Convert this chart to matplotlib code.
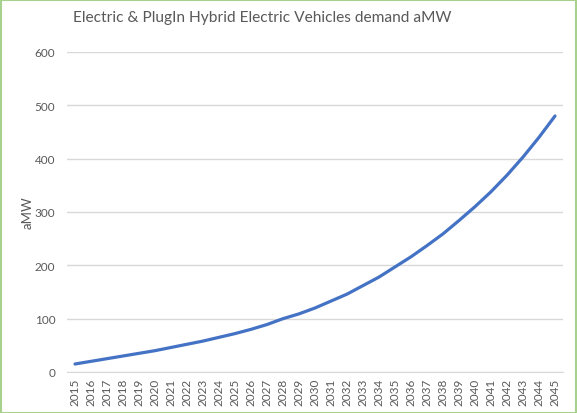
import matplotlib
matplotlib.use("Agg")
import matplotlib.pyplot as plt
from matplotlib.patches import Rectangle

years = list(range(2015, 2046))
demand = [15, 20, 25, 30, 35, 40, 46, 52, 58, 65, 72, 80, 89, 100, 109, 120,
          133, 146, 162, 178, 197, 216, 237, 259, 284, 310, 338, 369, 403, 440, 480]
yticks = [0, 100, 200, 300, 400, 500, 600]
title = "Electric & PlugIn Hybrid Electric Vehicles demand aMW"
ylabel = "aMW"

plt.rcParams['font.family'] = ['Lato', 'DejaVu Sans']

W, H = 577, 414
fig = plt.figure(figsize=(W / 100, H / 100), dpi=100)
ax = fig.add_axes([67 / W, 1 - 373 / H, (563 - 67) / W, (373 - 53) / H])

x = list(range(len(years)))
ax.plot(x, demand, color='#4472C4', lw=2.3, solid_capstyle='round')
ax.set_xlim(-0.5, len(years) - 0.5)
ax.set_ylim(0, 600)
ax.set_yticks(yticks)
ax.set_xticks(x)
ax.set_xticklabels([str(y) for y in years], rotation=90)
ax.grid(axis='y', color='#D9D9D9', lw=1)
ax.set_axisbelow(True)
for s in ['top', 'right', 'left']:
    ax.spines[s].set_visible(False)
ax.spines['bottom'].set_color('#D9D9D9')
ax.tick_params(axis='both', length=0, colors='#595959', labelsize=8.5)
ax.tick_params(axis='y', pad=8.5)
ax.tick_params(axis='x', pad=4)
ax.set_ylabel(ylabel, color='#595959', fontsize=9.5, labelpad=0.5)

fig.text(262 / W, 1 - 18 / H, title, ha='center', va='center', fontsize=11.2, color='#595959')

fig.patches.append(Rectangle((0.5 / W, 0.5 / H), 1 - 1.5 / W, 1 - 1.5 / H, transform=fig.transFigure,
                             fill=False, edgecolor='#A9D18E', lw=1.5))

fig.savefig('out.png', dpi=100)
